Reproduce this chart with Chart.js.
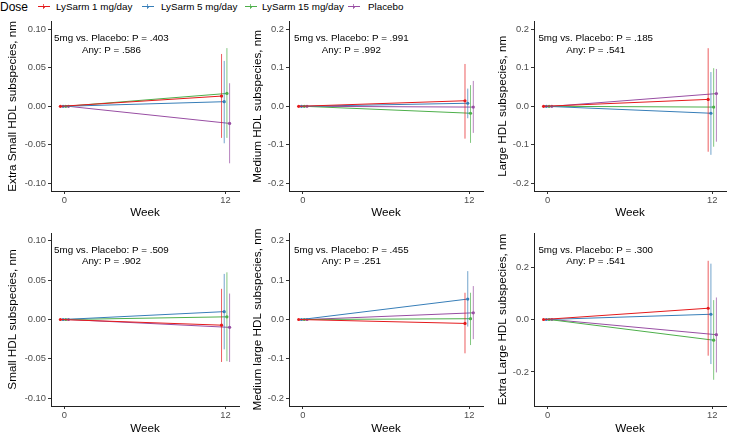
<!DOCTYPE html>
<html>
<head>
<meta charset="utf-8">
<script src="https://cdn.jsdelivr.net/npm/chart.js@4"></script>
<style>
  html, body { margin: 0; padding: 0; background: #fff; overflow: hidden; }
  body { width: 730px; height: 436px; position: relative; font-family: "Liberation Sans", Arial, sans-serif; }
  canvas { position: absolute; }
  .lg { position: absolute; top: 0; height: 14px; line-height: 14px; white-space: nowrap; color: #000; }
  .key { position: absolute; top: 0; width: 12px; height: 14px; }
  .key .h { position: absolute; left: 0; top: 6px; width: 12px; height: 1px; }
  .key .v { position: absolute; left: 5px; top: 4px; width: 1px; height: 5px; opacity: .7; }
  .key .d { position: absolute; left: 4.5px; top: 5.5px; width: 2px; height: 2px; border-radius: 1px; }
</style>
</head>
<body>
<div id="legend"></div>
<canvas id="c1" width="243" height="208" style="left:0;top:14px"></canvas>
<canvas id="c2" width="244" height="208" style="left:243px;top:14px"></canvas>
<canvas id="c3" width="243" height="208" style="left:487px;top:14px"></canvas>
<canvas id="c4" width="243" height="214" style="left:0;top:222px"></canvas>
<canvas id="c5" width="244" height="214" style="left:243px;top:222px"></canvas>
<canvas id="c6" width="243" height="214" style="left:487px;top:222px"></canvas>
<script>
// groups and colours
const groups = ["LySarm 1 mg/day", "LySarm 5 mg/day", "LySarm 15 mg/day", "Placebo"];
const colors = ["#E41A1C", "#377EB8", "#4DAF4A", "#984EA3"];
const weeks = [0, 12];

// change from baseline at week 12 (mean, lower, upper), one value per group
const xsMean = [0.0133, 0.006, 0.0167, -0.0222];
const xsLow = [-0.041, -0.048, -0.041, -0.074];
const xsHigh = [0.068, 0.059, 0.0756, 0.030];

const mMean = [0.0145, 0.008, -0.018, -0.002];
const mLow = [-0.084, -0.031, -0.095, -0.069];
const mHigh = [0.110, 0.046, 0.055, 0.066];

const lMean = [0.018, -0.018, -0.002, 0.033];
const lLow = [-0.118, -0.126, -0.105, -0.092];
const lHigh = [0.151, 0.089, 0.099, 0.097];

const sMean = [-0.0072, 0.010, 0.0034, -0.010];
const sLow = [-0.054, -0.038, -0.053, -0.054];
const sHigh = [0.039, 0.058, 0.060, 0.033];

const mlMean = [-0.010, 0.052, 0.002, 0.017];
const mlLow = [-0.086, -0.018, -0.065, -0.050];
const mlHigh = [0.068, 0.123, 0.068, 0.085];

const xlMean = [0.043, 0.020, -0.079, -0.058];
const xlLow = [-0.138, -0.170, -0.230, -0.202];
const xlHigh = [0.224, 0.213, 0.074, 0.084];

const yTitles = [
  "Extra Small HDL subspecies, nm", "Medium HDL subspecies, nm", "Large HDL subspecies, nm",
  "Small HDL subspecies, nm", "Medium large HDL subspecies, nm", "Extra Large HDL subspecies, nm"
];
const pFiveVsPlacebo = [".403", ".991", ".185", ".509", ".455", ".300"];
const pAny = [".586", ".992", ".541", ".902", ".251", ".541"];

const ticksSmall = [-0.10, -0.05, 0.00, 0.05, 0.10];
const ticksMid = [-0.2, -0.1, 0.0, 0.1, 0.2];
const ticksLarge = [-0.2, 0.0, 0.2];

const dodge = [-0.3, -0.1, 0.1, 0.3];
const font = "'Liberation Sans', Arial, sans-serif";

function alpha(hex, a) {
  const n = parseInt(hex.slice(1), 16);
  return `rgba(${n >> 16},${(n >> 8) & 255},${n & 255},${a})`;
}

// legend
const legend = document.getElementById("legend");
legend.innerHTML = `<div class="lg" style="left:0;font-size:12px">Dose</div>`;
const keyX = [38, 142, 245, 348];
const textX = [56, 161, 262, 368];
groups.forEach((g, i) => {
  legend.innerHTML += `
    <div class="key" style="left:${keyX[i]}px">
      <div class="v" style="background:${colors[i]}"></div>
      <div class="h" style="background:${colors[i]}"></div>
      <div class="d" style="background:${colors[i]}"></div>
    </div>
    <div class="lg" style="left:${textX[i]}px;font-size:9.8px">${g}</div>`;
});

const annotate = {
  id: "annotate",
  afterDraw(chart, args, opts) {
    const { ctx, chartArea, scales } = chart;
    const cx = scales.x.getPixelForValue(3.5);
    ctx.save();
    ctx.fillStyle = "#000";
    ctx.font = `9.8px ${font}`;
    ctx.textAlign = "center";
    ctx.textBaseline = "middle";
    ctx.fillText(`5mg vs. Placebo: P = ${opts.p5}`, cx, chartArea.top + 17);
    ctx.fillText(`Any: P = ${opts.pAny}`, cx, chartArea.top + 28.5);
    ctx.restore();
  }
};

function makePanel(id, k, mean, low, high, tickVals, lim, digits, yWidth, titlePad, padRight, padTop, xHeight, xTitlePad) {
  const datasets = [];
  groups.forEach((g, i) => {
    datasets.push({
      label: g + " CI",
      data: [{ x: weeks[1] + dodge[i], y: low[i] }, { x: weeks[1] + dodge[i], y: high[i] }],
      showLine: true,
      borderColor: alpha(colors[i], 0.7),
      borderWidth: 1,
      pointRadius: 0
    });
  });
  groups.forEach((g, i) => {
    datasets.push({
      label: g,
      data: [{ x: weeks[0] + dodge[i], y: 0 }, { x: weeks[1] + dodge[i], y: mean[i] }],
      showLine: true,
      borderColor: colors[i],
      backgroundColor: colors[i],
      borderWidth: 1,
      pointRadius: 1.6,
      pointBorderWidth: 0
    });
  });

  new Chart(document.getElementById(id), {
    type: "scatter",
    data: { datasets },
    plugins: [annotate],
    options: {
      responsive: false,
      animation: false,
      layout: { padding: { top: padTop, right: padRight, left: 0, bottom: 0 } },
      plugins: {
        legend: { display: false },
        tooltip: { enabled: false },
        annotate: { p5: pFiveVsPlacebo[k], pAny: pAny[k] }
      },
      scales: {
        x: {
          type: "linear",
          min: -1,
          max: 13,
          afterFit: s => { s.height = xHeight; },
          afterBuildTicks: s => { s.ticks = weeks.map(v => ({ value: v })); },
          grid: { drawOnChartArea: false, drawTicks: true, tickLength: 3, color: "#333" },
          border: { color: "#222", width: 1 },
          ticks: { color: "#4d4d4d", padding: 1, font: { family: font, size: 9.4 }, callback: v => String(v) },
          title: { display: true, text: "Week", color: "#000", font: { family: font, size: 11.7 }, padding: { top: 0, bottom: xTitlePad } }
        },
        y: {
          min: -lim,
          max: lim,
          afterFit: s => { s.width = yWidth; },
          afterBuildTicks: s => { s.ticks = tickVals.map(v => ({ value: v })); },
          grid: { drawOnChartArea: false, drawTicks: true, tickLength: 3, color: "#333" },
          border: { color: "#222", width: 1 },
          ticks: { color: "#4d4d4d", padding: 2, font: { family: font, size: 9.4 }, callback: v => Number(v).toFixed(digits) },
          title: { display: true, text: yTitles[k], color: "#000", font: { family: font, size: 11.7 }, padding: { top: titlePad, bottom: 0 } }
        }
      }
    }
  });
}

makePanel("c1", 0, xsMean, xsLow, xsHigh, ticksSmall, 0.11, 2, 51, 5.5, 3, 4, 31, 2);
makePanel("c2", 1, mMean, mLow, mHigh, ticksMid, 0.22, 1, 46, 7.7, 4, 4, 31, 2);
makePanel("c3", 2, lMean, lLow, lHigh, ticksMid, 0.22, 1, 47, 8.8, 2, 4, 31, 2);
makePanel("c4", 3, sMean, sLow, sHigh, ticksSmall, 0.11, 2, 51, 5.5, 3, 11, 30, 0);
makePanel("c5", 4, mlMean, mlLow, mlHigh, ticksMid, 0.22, 1, 46, 7.7, 4, 11, 30, 0);
makePanel("c6", 5, xlMean, xlLow, xlHigh, ticksLarge, 0.33, 1, 47, 8.8, 2, 11, 30, 0);
</script>
</body>
</html>
